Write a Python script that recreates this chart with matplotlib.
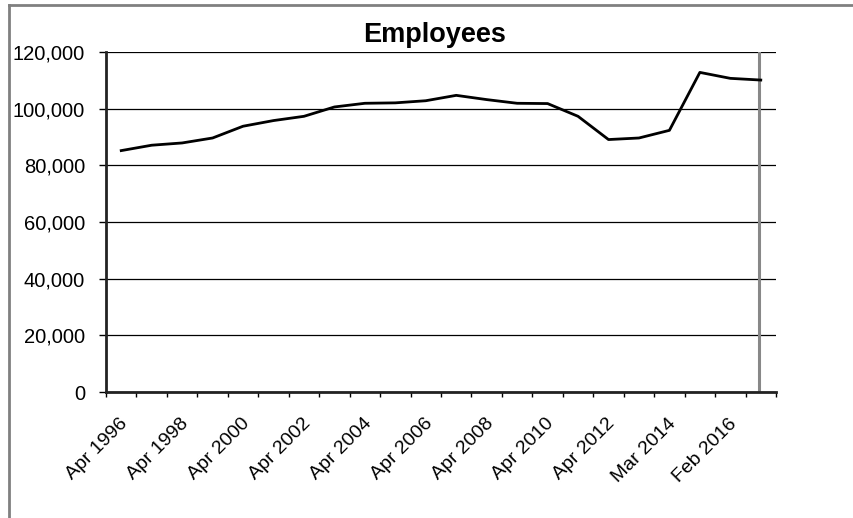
import matplotlib
matplotlib.use('Agg')
import matplotlib.pyplot as plt
from matplotlib.lines import Line2D
from matplotlib.ticker import FuncFormatter, FixedLocator
from matplotlib.transforms import ScaledTranslation

categories = ['Apr 1996', 'Apr 1997', 'Apr 1998', 'Apr 1999', 'Apr 2000',
              'Apr 2001', 'Apr 2002', 'Apr 2003', 'Apr 2004', 'Apr 2005',
              'Apr 2006', 'Apr 2007', 'Apr 2008', 'Apr 2009', 'Apr 2010',
              'Apr 2011', 'Apr 2012', 'Apr 2013', 'Mar 2014', 'Mar 2015',
              'Feb 2016', 'Feb 2017']
employees = [85200, 87100, 87900, 89650, 93800, 95800, 97300, 100600,
             101900, 102050, 102800, 104700, 103200, 101900, 101800,
             97300, 89100, 89650, 92350, 112800, 110700, 110100]
y_ticks = [0, 20000, 40000, 60000, 80000, 100000, 120000]

plt.rcParams['font.family'] = ['Liberation Sans', 'DejaVu Sans']

fig = plt.figure(figsize=(8.54, 5.18), dpi=100)
ax = fig.add_axes([106 / 854, 1 - 392 / 518, 670 / 854, 340 / 518])

x = list(range(len(categories)))
ax.plot(x, employees, color='black', lw=2.0, solid_joinstyle='round', zorder=3)

ax.set_xlim(-0.5, len(categories) - 0.5)
ax.set_ylim(y_ticks[0], y_ticks[-1])

ax.set_yticks(y_ticks)
ax.yaxis.set_major_formatter(FuncFormatter(lambda v, p: '{:,.0f}'.format(v)))
ax.grid(axis='y', color='black', lw=0.9)
ax.set_axisbelow(True)

# tick marks between categories, labels on every other category
ax.xaxis.set_major_locator(FixedLocator([i - 0.5 for i in range(len(categories) + 1)]))
ax.set_xticklabels([])
ax.set_xticks(x[::2], minor=True)
ax.set_xticklabels(categories[::2], minor=True, rotation=45, ha='right', va='center',
                   rotation_mode='anchor', fontsize=14)
ax.tick_params(axis='x', which='minor', length=0, pad=21)
ax.tick_params(axis='x', which='major', length=3.6, width=1, direction='out')
ax.tick_params(axis='y', length=5, width=1, direction='out', labelsize=14.5, pad=10)
shift = ScaledTranslation(4 / 100, 0, fig.dpi_scale_trans)
for lbl in ax.get_xticklabels(minor=True):
    lbl.set_transform(lbl.get_transform() + shift)

for side in ['top', 'right']:
    ax.spines[side].set_visible(False)
ax.spines['left'].set_linewidth(2)
ax.spines['left'].set_color('#222222')
ax.spines['bottom'].set_linewidth(2)
ax.spines['bottom'].set_color('#222222')

ax.axvline(len(categories) - 1.07, color='#888888', lw=2.2, zorder=2)

ax.set_title('Employees', fontsize=19.5, fontweight='bold', pad=7, x=0.491)

# outer chart frame
fig.add_artist(Line2D([9 / 854, 9 / 854], [0, 1 - 5 / 518], transform=fig.transFigure,
                      color='#808080', lw=2))
fig.add_artist(Line2D([9 / 854, 1], [1 - 5 / 518, 1 - 5 / 518], transform=fig.transFigure,
                      color='#808080', lw=2))

fig.savefig('out.png', dpi=100)
